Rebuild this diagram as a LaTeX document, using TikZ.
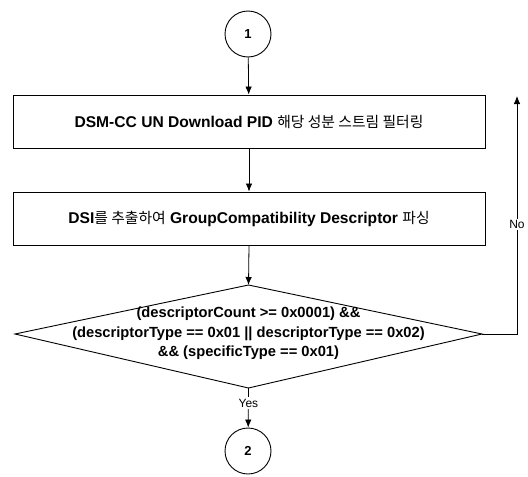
\documentclass[tikz,border=0pt]{standalone}
\usepackage{fontspec}
\setmainfont{Liberation Sans}
\newfontfamily\kr{Noto Sans CJK KR}
\usetikzlibrary{arrows.meta}
\newcommand{\krtext}[1]{{\kr\mdseries\fontsize{14.8}{17}\selectfont #1}}
\begin{document}
\begin{tikzpicture}[x=1pt,y=-1pt,
  every node/.style={font=\fontsize{14.5}{17}\selectfont},
  conn/.style={circle,draw,line width=0.9pt,minimum size=46pt,inner sep=0pt,font=\bfseries\fontsize{13}{15}\selectfont},
  procbox/.style={draw,line width=0.9pt,minimum width=472pt,minimum height=53pt,inner sep=0pt,font=\bfseries\fontsize{15.6}{18}\selectfont},
  flow/.style={line width=0.8pt,-{Latex[length=8pt,width=6.5pt]}},
  lbl/.style={fill=white,inner sep=1.5pt,font=\fontsize{12}{14}\selectfont}]
\useasboundingbox (0,0) rectangle (528,477);

% connectors and process boxes
\node[conn] (c1) at (248,34) {1};
\node[procbox] (b1) at (249,121.5) {DSM-CC UN Download PID \krtext{해당 성분 스트림 필터링}};
\node[procbox] (b2) at (249,218.5) {DSI\krtext{를 추출하여} GroupCompatibility Descriptor \krtext{파싱}};

% decision diamond
\coordinate (dt) at (248.5,285);
\coordinate (dr) at (482,334);
\coordinate (db) at (248.5,388);
\coordinate (dl) at (15,334);
\draw[line width=0.9pt] (dt) -- (dr) -- (db) -- (dl) -- cycle;
\node[align=center,font=\bfseries\fontsize{14.7}{19.5}\selectfont] (dtext) at (248.5,333.5)
  {(descriptorCount >= 0x0001) \&\&\\(descriptorType == 0x01 || descriptorType == 0x02)\\\&\& (specificType == 0x01)};

\node[conn] (c2) at (248,451) {2};

% flow lines
\draw[flow] (c1) -- (b1);
\draw[flow] (b1) -- (b2);
\draw[flow] (b2.south) -- (dt);
\draw[flow] (db) -- node[lbl,pos=0.38] (yes) {Yes} (c2);
\coordinate (nc) at (517,334);
\coordinate (ne) at (517,96);
\draw[flow] (dr) -- (nc) -- node[lbl,pos=0.46] (no) {No} (ne);
\end{tikzpicture}
\end{document}
